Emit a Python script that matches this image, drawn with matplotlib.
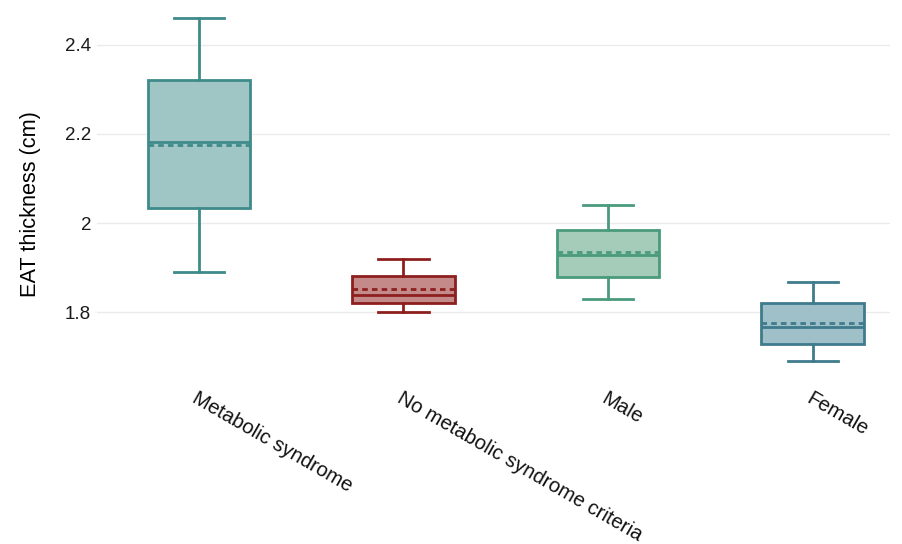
import matplotlib.pyplot as plt

plt.rcParams['font.family'] = ['Liberation Sans', 'DejaVu Sans']

groups = ["Metabolic syndrome", "No metabolic syndrome criteria", "Male", "Female"]
whislo = [1.89, 1.80, 1.83, 1.69]
q1 = [2.034, 1.821, 1.879, 1.729]
med = [2.181, 1.839, 1.928, 1.767]
q3 = [2.32, 1.881, 1.984, 1.821]
whishi = [2.46, 1.92, 2.04, 1.868]
means = [2.175, 1.852, 1.935, 1.776]

edge_colors = ["#3f8a8a", "#8e1f1f", "#4a9a7c", "#3e7b8c"]
fill_colors = ["#9fc5c4", "#c48a8a", "#a5cbb9", "#9fbfc9"]

stats = []
for i, g in enumerate(groups):
    stats.append({"label": g, "whislo": whislo[i], "q1": q1[i], "med": med[i],
                  "q3": q3[i], "whishi": whishi[i], "mean": means[i], "fliers": []})

fig = plt.figure(figsize=(9.03, 5.44), dpi=100)
ax = fig.add_axes([0.107, 0.303, 0.879, 0.697])

for i, s in enumerate(stats):
    c = edge_colors[i]
    ax.bxp([s], positions=[i], widths=0.5, capwidths=0.245, showmeans=True, meanline=True,
           showfliers=False, patch_artist=True,
           boxprops=dict(facecolor=fill_colors[i], edgecolor=c, linewidth=2),
           medianprops=dict(color=c, linewidth=2),
           meanprops=dict(color=c, linewidth=2, linestyle=(0, (2, 1.5))),
           whiskerprops=dict(color=c, linewidth=2),
           capprops=dict(color=c, linewidth=2))

ax.set_xlim(-0.5, 3.38)
ax.set_ylim(1.65, 2.50)
ax.set_yticks([1.8, 2.0, 2.2, 2.4])
ax.set_yticklabels(["1.8", "2", "2.2", "2.4"], fontsize=13.5, color="#1a1a1a")
ax.set_xticks(range(len(groups)))
ax.set_xticklabels(groups, rotation=-30, ha="left", va="top", rotation_mode="anchor",
                   fontsize=14.6, color="#111111")
ax.tick_params(axis="both", length=0)
ax.tick_params(axis="y", pad=4)
ax.tick_params(axis="x", pad=7)
ax.grid(axis="y", color="#ebebeb", linewidth=1)
ax.set_axisbelow(True)
for sp in ax.spines.values():
    sp.set_visible(False)
ax.set_ylabel("EAT thickness (cm)", fontsize=15.7, color="#000000")
ax.yaxis.set_label_coords(-0.07, 0.462)

fig.savefig("out.png", dpi=100)
